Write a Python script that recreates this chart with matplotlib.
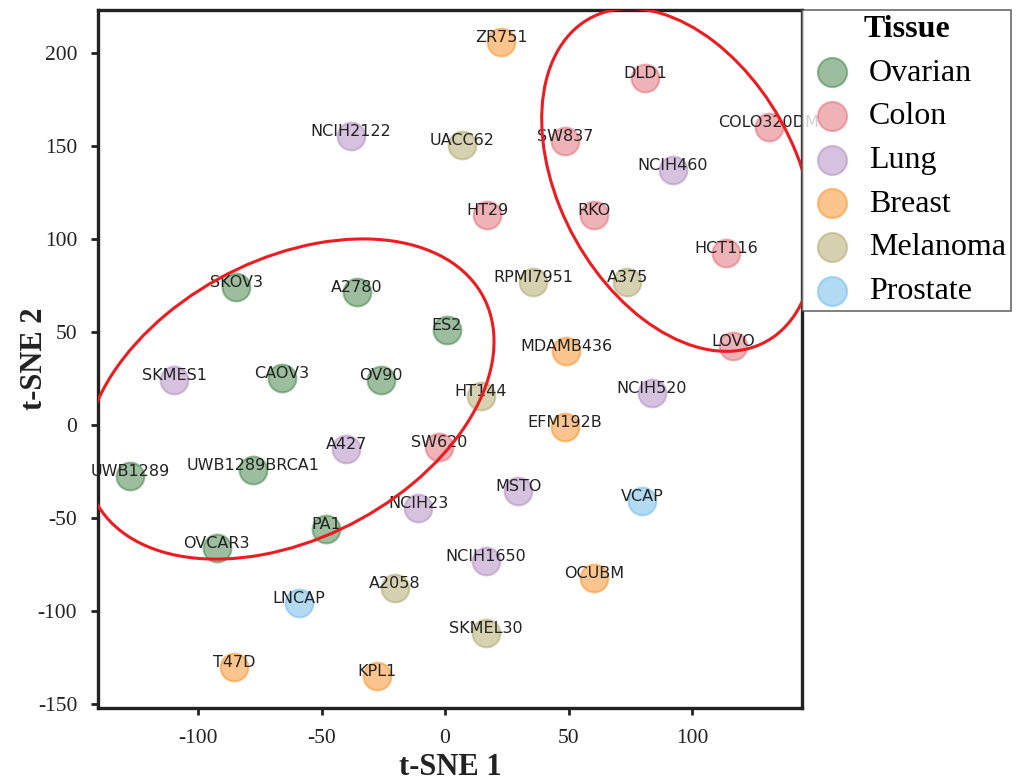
import matplotlib
matplotlib.use("Agg")
import matplotlib.pyplot as plt
from matplotlib.patches import Ellipse
import numpy as np

plt.rcParams["axes.unicode_minus"] = False

# t-SNE coordinates
cell_lines = ["ZR751", "DLD1", "COLO320DM", "NCIH2122", "UACC62", "SW837", "NCIH460",
              "HT29", "RKO", "HCT116", "SKOV3", "A2780", "RPMI7951", "A375", "ES2",
              "MDAMB436", "LOVO", "SKMES1", "CAOV3", "OV90", "HT144", "NCIH520",
              "EFM192B", "SW620", "A427", "UWB1289", "UWB1289BRCA1", "MSTO", "VCAP",
              "NCIH23", "PA1", "OVCAR3", "NCIH1650", "OCUBM", "A2058", "LNCAP",
              "SKMEL30", "T47D", "KPL1"]
tsne1 = [22.7, 81.0, 131.0, -38.0, 6.9, 48.6, 92.3,
         17.0, 60.3, 113.8, -84.6, -35.6, 35.6, 73.7, 0.8,
         49.0, 116.6, -109.7, -66.0, -26.0, 14.6, 83.8,
         48.6, -2.4, -40.0, -127.5, -77.7, 29.6, 79.8,
         -10.9, -48.2, -92.5, 16.6, 60.3, -20.2, -59.1,
         16.6, -85.4, -27.5]
tsne2 = [206.0, 186.6, 160.0, 155.4, 150.5, 152.7, 137.0,
         113.0, 113.0, 92.5, 74.2, 71.5, 76.9, 76.9, 51.0,
         39.8, 42.5, 24.2, 25.3, 24.2, 15.6, 17.2,
         -1.1, -11.8, -12.9, -27.4, -24.2, -35.5, -40.9,
         -44.6, -55.9, -66.2, -73.1, -82.3, -87.6, -95.7,
         -111.8, -130.0, -134.9]
tissue = ["Breast", "Colon", "Colon", "Lung", "Melanoma", "Colon", "Lung",
          "Colon", "Colon", "Colon", "Ovarian", "Ovarian", "Melanoma", "Melanoma", "Ovarian",
          "Breast", "Colon", "Lung", "Ovarian", "Ovarian", "Melanoma", "Lung",
          "Breast", "Colon", "Lung", "Ovarian", "Ovarian", "Lung", "Prostate",
          "Lung", "Ovarian", "Ovarian", "Lung", "Breast", "Melanoma", "Prostate",
          "Melanoma", "Breast", "Breast"]

tissues = ["Ovarian", "Colon", "Lung", "Breast", "Melanoma", "Prostate"]
colors = ["#3b7f3f", "#e16771", "#af87bf", "#f98d1d", "#ada565", "#69b7e9"]

# cluster outlines (centre, width, height, angle)
clusters = [((-63.0, 14.0), 197, 135, 48),
            ((94.3, 131.7), 190, 100, -73.2)]

serif = ["Liberation Serif", "DejaVu Serif"]

fig = plt.figure(figsize=(10.26, 7.82), dpi=100)
ax = fig.add_axes([98 / 1026, 1 - 708 / 782, 704 / 1026, 698 / 782])

x = np.array(tsne1)
y = np.array(tsne2)
t = np.array(tissue)
for name, col in zip(tissues, colors):
    m = t == name
    ax.scatter(x[m], y[m], s=400, color=col, alpha=0.5, edgecolors=col,
               linewidths=1.5, label=name, zorder=2)

for lab, xi, yi in zip(cell_lines, tsne1, tsne2):
    ax.text(xi, yi, lab, ha="center", va="baseline", fontsize=11.5,
            family="DejaVu Sans", color="#222222", zorder=3)

for (c, w, h, a) in clusters:
    ax.add_patch(Ellipse(c, w, h, angle=a, fill=False, edgecolor="#ec1c20",
                         linewidth=2.2, zorder=4))

ax.set_xlim(-140.5, 144.5)
ax.set_ylim(-152, 223)
ax.set_xticks([-100, -50, 0, 50, 100])
ax.set_yticks([-150, -100, -50, 0, 50, 100, 150, 200])
for sp in ax.spines.values():
    sp.set_linewidth(2.4)
    sp.set_color("#222222")
ax.tick_params(length=5, width=2, pad=10, labelsize=15.5, colors="#222222")
for lbl in ax.get_xticklabels() + ax.get_yticklabels():
    lbl.set_family(serif)

ax.set_xlabel("t-SNE 1", fontsize=22, fontweight="bold", family=serif,
              color="#222222")
ax.set_ylabel("t-SNE 2", fontsize=22, fontweight="bold", family=serif,
              color="#222222")
ax.xaxis.set_label_coords(0.5, -0.064)
ax.yaxis.set_label_coords(-0.07, 0.5)

leg = ax.legend(loc="upper left", bbox_to_anchor=(1.0, 1.0), borderaxespad=0,
                title="Tissue", fancybox=False, frameon=True,
                prop={"family": serif, "size": 23}, labelspacing=0.45,
                handletextpad=0.35, borderpad=0.15, handlelength=1.6,
                markerscale=1.05)
leg.get_title().set_fontproperties({"family": serif, "size": 23, "weight": "bold"})
leg.get_frame().set_edgecolor("#444444")
leg.get_frame().set_linewidth(1.2)

fig.savefig("out.png", dpi=100)
